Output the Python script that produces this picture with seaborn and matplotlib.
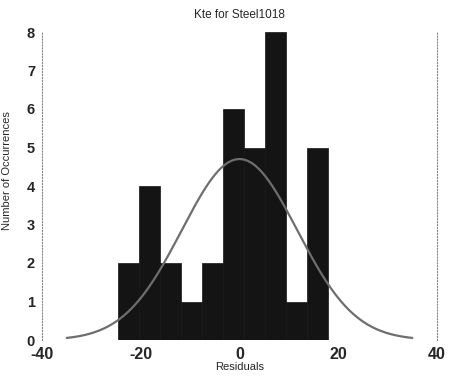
import numpy as np
import pandas as pd
import matplotlib
matplotlib.use("Agg")
import matplotlib.pyplot as plt
import seaborn as sns

# Data
bin_edges = [-24.6, -20.34, -16.08, -11.82, -7.56, -3.3, 0.96, 5.22, 9.48, 13.74, 18.0]
counts = [2, 4, 2, 1, 2, 6, 5, 8, 1, 5]
fit_mu = 0.0
fit_sigma = 11.7
fit_peak = 4.7
fit_range = (-35.0, 35.0)
x_ticks = [-40, -20, 0, 20, 40]
y_ticks = [0, 1, 2, 3, 4, 5, 6, 7, 8]

centers = [(bin_edges[i] + bin_edges[i + 1]) / 2 for i in range(len(counts))]
df = pd.DataFrame({"x": centers, "w": counts})

xs = np.linspace(fit_range[0], fit_range[1], 300)
curve = pd.DataFrame({"x": xs, "y": fit_peak * np.exp(-((xs - fit_mu) ** 2) / (2 * fit_sigma ** 2))})

sns.set_style("white")
plt.rcParams["font.family"] = ["Liberation Sans", "DejaVu Sans"]

fig = plt.figure(figsize=(4.49, 3.81), dpi=100)
ax = fig.add_axes([42 / 449, 1 - 340 / 381, (437 - 42) / 449, (340 - 32) / 381])

sns.histplot(data=df, x="x", weights="w", bins=bin_edges, ax=ax,
             color="#141414", edgecolor="#141414", alpha=1.0, linewidth=0.5)
sns.lineplot(data=curve, x="x", y="y", ax=ax, color="#6e6e6e", linewidth=1.6)

ax.set_xlim(-40, 40)
ax.set_ylim(0, 8)
ax.set_xticks(x_ticks)
ax.set_yticks(y_ticks)
ax.set_xticklabels([str(t) for t in x_ticks], fontsize=11.5, fontweight="bold")
ax.set_yticklabels([str(t) for t in y_ticks], fontsize=10.5, fontweight="bold")
ax.tick_params(axis="both", length=0)
ax.tick_params(axis="x", pad=5)
ax.tick_params(axis="y", pad=5)

ax.set_title("Kte for Steel1018", fontsize=8.5, pad=10)
ax.set_xlabel("Residuals", fontsize=8, labelpad=0)
ax.set_ylabel("Number of Occurrences", fontsize=8)
ax.yaxis.set_label_coords(-0.075, 0.55)

for s in ["top", "bottom"]:
    ax.spines[s].set_visible(False)
for s in ["left", "right"]:
    ax.spines[s].set_visible(True)
    ax.spines[s].set_linestyle(":")
    ax.spines[s].set_color("#888888")
    ax.spines[s].set_linewidth(0.8)

fig.savefig("out.png", dpi=100)
